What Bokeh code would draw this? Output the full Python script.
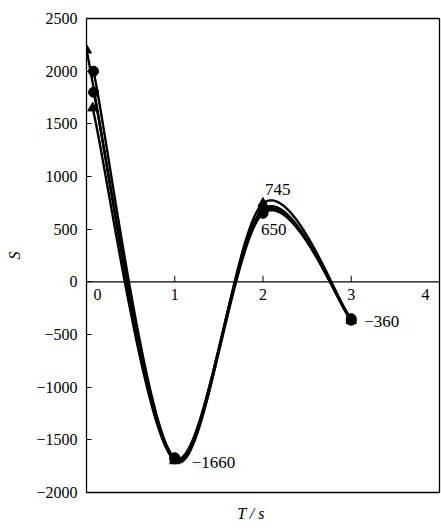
import numpy as np
from bokeh.plotting import figure
from bokeh.models import FixedTicker, Span, Range1d
from bokeh.core.properties import value
from bokeh.embed import file_html
from bokeh.resources import INLINE

# ---- data ----
s1_x = [0.0, 1, 2, 3]
s1_y = [2200, -1700, 745, -360]
s2_x = [0.08, 1, 2, 3]
s2_y = [2000, -1680, 650, -350]
s3_x = [0.08, 1, 2, 3]
s3_y = [1800, -1670, 670, -365]
s4_x = [0.07, 1, 2, 3]
s4_y = [1650, -1690, 690, -370]
series = [(s1_x, s1_y, "triangle"), (s2_x, s2_y, "circle"),
          (s3_x, s3_y, "circle"), (s4_x, s4_y, "triangle")]

ann_x = [2, 2, 1, 3]
ann_y = [745, 650, -1680, -360]
ann_text = ["745", "650", "\u22121660", "\u2212360"]

y_ticks = [2500, 2000, 1500, 1000, 500, 0, -500, -1000, -1500, -2000]
x_ticks = [0, 1, 2, 3, 4]
x_tick_labels = ["0", "1", "2", "3", "4"]

FONT = "Liberation Serif"
FS = "16px"
FS_ANN = "17px"


def smooth(xs, ys, n=40):
    """Excel-style smoothed line (cubic Bezier, tangent = (P[i+1]-P[i-1])/6)."""
    P = np.column_stack([xs, ys]).astype(float)
    Pe = np.vstack([P[0], P, P[-1]])
    out = []
    t = np.linspace(0, 1, n)[:, None]
    for i in range(len(P) - 1):
        p0, p3 = P[i], P[i + 1]
        c1 = p0 + (Pe[i + 2] - Pe[i]) / 6.0
        c2 = p3 - (Pe[i + 3] - Pe[i + 1]) / 6.0
        seg = ((1 - t) ** 3) * p0 + 3 * ((1 - t) ** 2) * t * c1 + 3 * (1 - t) * t ** 2 * c2 + t ** 3 * p3
        out.append(seg if i == 0 else seg[1:])
    c = np.vstack(out)
    return c[:, 0], c[:, 1]


p = figure(width=441, height=530, output_backend="svg", toolbar_location=None,
           x_range=Range1d(0, 4), y_range=Range1d(-2000, 2500),
           min_border_left=86, min_border_right=2, min_border_top=18, min_border_bottom=38)
p.grid.visible = False
p.background_fill_color = "white"
p.border_fill_color = "white"
p.outline_line_color = "black"
p.outline_line_width = 1.3

# bottom axis: only carries the axis title
xa = p.xaxis[0]
xa.ticker = FixedTicker(ticks=[])
xa.major_tick_line_color = None
xa.minor_tick_line_color = None
xa.major_label_text_font_size = "0px"
xa.axis_line_color = "black"
xa.axis_label = "T / s\u00a0\u00a0\u00a0\u00a0\u00a0\u00a0"
xa.axis_label_text_font = FONT
xa.axis_label_text_font_style = "italic"
xa.axis_label_text_font_size = FS
xa.axis_label_text_color = "black"
xa.axis_label_standoff = 12

ya = p.yaxis[0]
ya.ticker = FixedTicker(ticks=y_ticks)
ya.major_label_overrides = {v: (str(v).replace("-", "\u2212")) for v in y_ticks}
ya.major_tick_in = 5
ya.major_tick_out = 0
ya.minor_tick_line_color = None
ya.axis_line_color = "black"
ya.major_tick_line_color = "black"
ya.major_label_text_font = FONT
ya.major_label_text_font_size = FS
ya.major_label_text_color = "black"
ya.major_label_standoff = 9
ya.axis_label = "S"
ya.axis_label_text_font = FONT
ya.axis_label_text_font_style = "italic"
ya.axis_label_text_font_size = FS
ya.axis_label_text_color = "black"
ya.axis_label_standoff = 10

# zero line acting as x axis
p.add_layout(Span(location=0, dimension="width", line_color="black", line_width=1.2))
px_per_unit = (530 - 18 - 38) / 4500.0
tick_len = 6 / px_per_unit
inner = x_ticks[1:-1]
p.segment(x0=inner, y0=[0] * len(inner), x1=inner, y1=[tick_len] * len(inner),
          line_color="black", line_width=1)
p.text(x=inner, y=[0] * len(inner), text=x_tick_labels[1:-1], text_font=value(FONT),
       text_font_size=FS, text_align="center", text_baseline="top", y_offset=7, text_color="black")
p.text(x=[x_ticks[0]], y=[0], text=[x_tick_labels[0]], text_font=value(FONT),
       text_font_size=FS, text_align="center", text_baseline="top", y_offset=7, x_offset=11,
       text_color="black")
p.text(x=[x_ticks[-1]], y=[0], text=[x_tick_labels[-1]], text_font=value(FONT),
       text_font_size=FS, text_align="center", text_baseline="top", y_offset=7, x_offset=-14,
       text_color="black")

for xs, ys, mk in series:
    cx, cy = smooth(xs, ys)
    p.line(cx, cy, line_color="black", line_width=2.4)
    p.scatter(xs, ys, marker=mk, size=10, fill_color="black", line_color="black")

offs = [(2, -14, "left"), (-2, 16, "left"), (17, 4, "left"), (13, 2, "left")]
for (ax, ay, at), (dx, dy, al) in zip(zip(ann_x, ann_y, ann_text), offs):
    p.text(x=[ax], y=[ay], text=[at], text_font=value(FONT), text_font_size=FS_ANN,
           text_align=al, text_baseline="middle", x_offset=dx, y_offset=dy, text_color="black")

open("out.html", "w").write(file_html(p, INLINE))
